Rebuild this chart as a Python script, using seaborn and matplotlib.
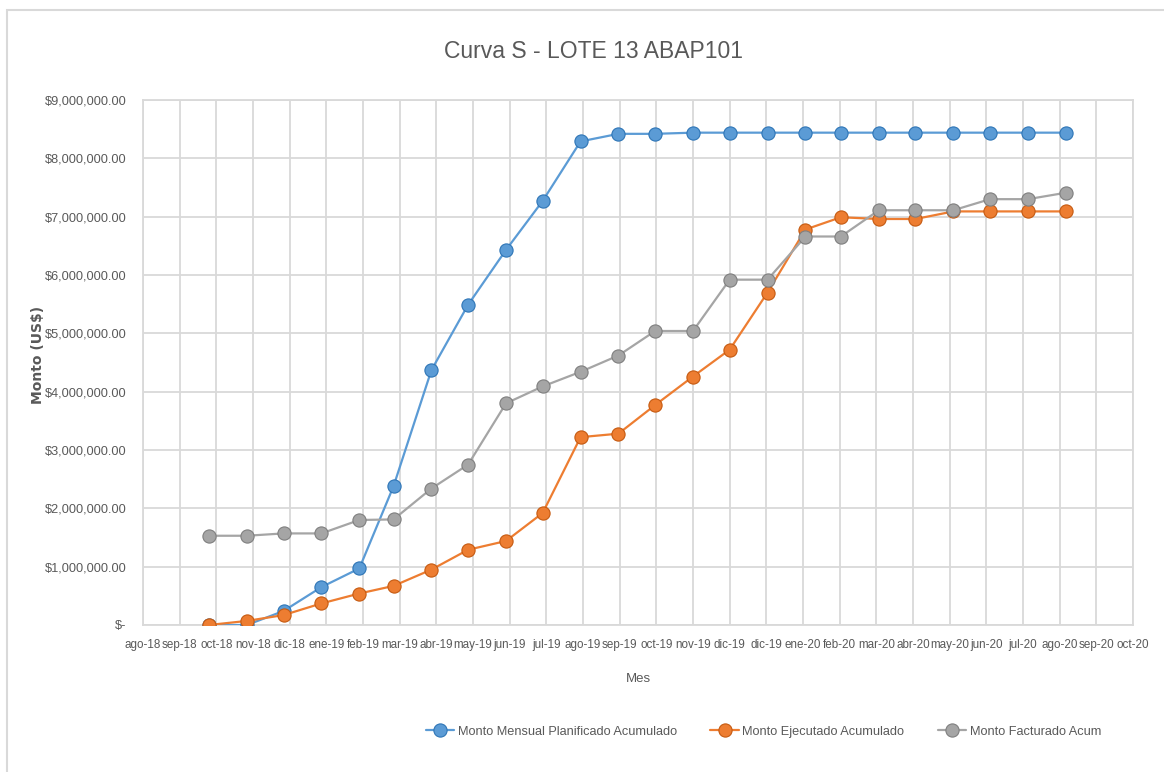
import pandas as pd
import seaborn as sns
import numpy as np
import matplotlib.pyplot as plt
import matplotlib.dates as mdates
from matplotlib.patches import Rectangle

sns.set_style(style='white')
plt.rcParams['font.family'] = ['Liberation Sans', 'DejaVu Sans']

# datos (US$)
meses = pd.date_range('2018-10-01', '2020-09-01', freq='MS')
planificado = [0.0, 0.0, 0.24e6, 0.65e6, 0.97e6, 2.38e6, 4.37e6, 5.49e6, 6.43e6, 7.27e6,
               8.29e6, 8.42e6, 8.42e6, 8.44e6, 8.44e6, 8.44e6, 8.44e6, 8.44e6, 8.44e6, 8.44e6,
               8.44e6, 8.44e6, 8.44e6, 8.44e6]
ejecutado = [0.0, 0.07e6, 0.17e6, 0.37e6, 0.54e6, 0.67e6, 0.95e6, 1.29e6, 1.44e6, 1.92e6,
             3.22e6, 3.28e6, 3.77e6, 4.26e6, 4.72e6, 5.70e6, 6.78e6, 6.99e6, 6.96e6, 6.96e6,
             7.09e6, 7.09e6, 7.09e6, 7.09e6]
facturado = [1.53e6, 1.53e6, 1.57e6, 1.57e6, 1.80e6, 1.81e6, 2.34e6, 2.75e6, 3.80e6, 4.09e6,
             4.34e6, 4.62e6, 5.04e6, 5.04e6, 5.92e6, 5.92e6, 6.66e6, 6.66e6, 7.11e6, 7.11e6,
             7.11e6, 7.30e6, 7.30e6, 7.41e6]

series = ['Monto Mensual Planificado Acumulado', 'Monto Ejecutado Acumulado', 'Monto Facturado Acum']
colores = ['#5b9bd5', '#ed7d31', '#a5a5a5']
bordes = ['#2e75b6', '#c55a11', '#7f7f7f']

x_labels = ['ago-18', 'sep-18', 'oct-18', 'nov-18', 'dic-18', 'ene-19', 'feb-19', 'mar-19',
            'abr-19', 'may-19', 'jun-19', 'jul-19', 'ago-19', 'sep-19', 'oct-19', 'nov-19',
            'dic-19', 'dic-19', 'ene-20', 'feb-20', 'mar-20', 'abr-20', 'may-20', 'jun-20',
            'jul-20', 'ago-20', 'sep-20', 'oct-20']
y_labels = ['$-', '$1,000,000.00', '$2,000,000.00', '$3,000,000.00', '$4,000,000.00',
            '$5,000,000.00', '$6,000,000.00', '$7,000,000.00', '$8,000,000.00', '$9,000,000.00']

df = pd.DataFrame({'Mes': list(meses) * 3,
                   'Monto': planificado + ejecutado + facturado,
                   'Serie': np.repeat(series, len(meses))})

GRIS = '#595959'
fig = plt.figure(figsize=(11.64, 7.72), dpi=100)
ax = fig.add_axes([143 / 1164, 1 - 625 / 772, 990 / 1164, 525 / 772])

for serie, color, borde in zip(series, colores, bordes):
    sns.lineplot(data=df[df['Serie'] == serie], x='Mes', y='Monto', label=serie,
                 color=color, linewidth=1.6, marker='o', markersize=9.5,
                 markerfacecolor=color, markeredgecolor=borde, markeredgewidth=0.8,
                 ax=ax, zorder=3)

# eje de fechas estilo Excel: una marca cada 30 dias
tick_start = pd.Timestamp('2018-08-08')
ticks = [tick_start + pd.Timedelta(days=30 * i) for i in range(len(x_labels))]
ax.set_xticks(mdates.date2num(ticks))
ax.set_xticklabels(x_labels, fontsize=8.4, color=GRIS)
ax.set_xlim(mdates.date2num(ticks[0]), mdates.date2num(ticks[-1]))

ax.set_yticks(np.arange(0, 9.5e6, 1e6))
ax.set_yticklabels(y_labels, fontsize=9.2, color=GRIS)
ax.set_ylim(0, 9e6)
ax.tick_params(axis='y', length=0, pad=12)
ax.tick_params(axis='x', length=0, pad=10)

ax.grid(True, color='#d9d9d9', linewidth=1.3)
for sp in ax.spines.values():
    sp.set_color('#d9d9d9')
    sp.set_linewidth(1.3)

ax.set_xlabel('Mes', fontsize=9.5, color=GRIS, labelpad=16)
ax.set_ylabel('Monto (US$)', fontsize=10, color=GRIS, weight='semibold',
              family=['DejaVu Sans'])
ax.yaxis.set_label_coords(-0.099, 0.514)

fig.text(0.51, 0.933, 'Curva S - LOTE 13 ABAP101', ha='center', va='center',
         fontsize=16.5, color=GRIS)

leg = ax.legend(loc='center', bbox_to_anchor=(0.656, 0.052), bbox_transform=fig.transFigure,
                ncol=3, frameon=False, fontsize=9.2, handlelength=2.2, columnspacing=2.6,
                handletextpad=0.3)
for t in leg.get_texts():
    t.set_color(GRIS)

fig.add_artist(Rectangle((7 / 1164, -0.1), 1.2, 1 - 10 / 772 + 0.1, transform=fig.transFigure,
                         fill=False, edgecolor='#d9d9d9', linewidth=1.5))

fig.savefig('out.png', dpi=100)
